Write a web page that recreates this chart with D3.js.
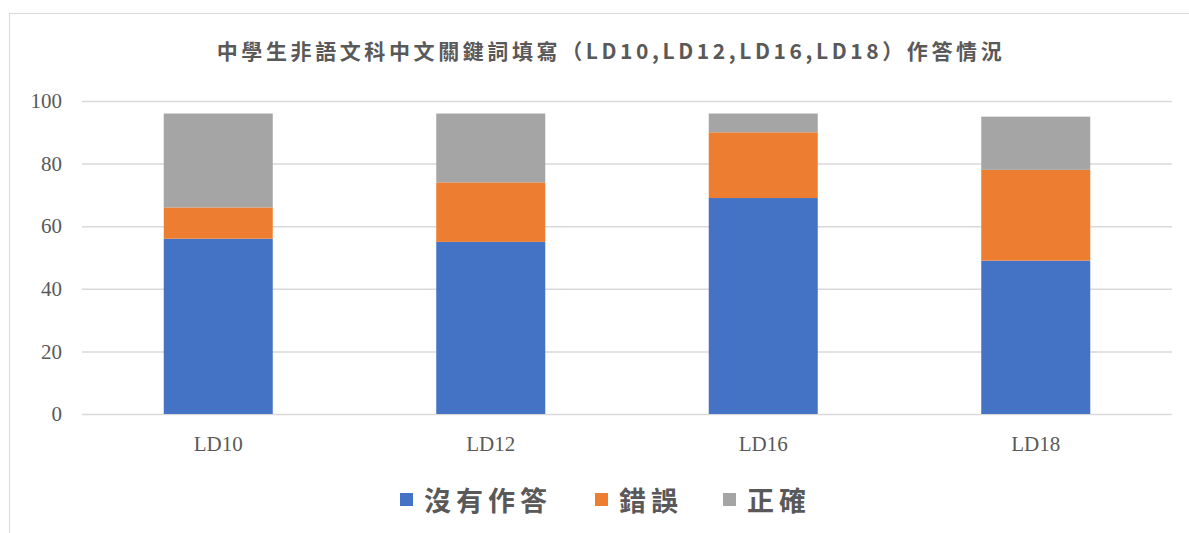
<!DOCTYPE html>
<html><head><meta charset="utf-8">
<script src="https://cdn.jsdelivr.net/npm/d3@7"></script>
<style>body{margin:0;background:#fff}svg{display:block}</style>
</head><body>
<svg id="chart" width="1189" height="533"></svg>
<script>
const categories = ["LD10","LD12","LD16","LD18"];
const seriesNames = ["沒有作答","錯誤","正確"];
const noAnswer = [56,55,69,49];
const wrong = [10,19,21,29];
const correct = [30,22,6,17];
const yTicks = [0,20,40,60,80,100];
const colors = ["#4472C4","#ED7D31","#A5A5A5"];
const title = "中學生非語文科中文關鍵詞填寫（LD10,LD12,LD16,LD18）作答情況";

(function(){
const svg = d3.select("#chart");
const pL = 82, pR = 1172, pT = 101, pB = 414;
const rows = categories.map((c,i)=>({cat:c, "沒有作答":noAnswer[i], "錯誤":wrong[i], "正確":correct[i]}));
const stack = d3.stack().keys(seriesNames)(rows);

const x = d3.scaleBand().domain(categories).range([pL,pR]).paddingInner(0.6).paddingOuter(0.3);
const y = d3.scaleLinear().domain([0,100]).range([pB,pT]);

svg.append("rect").attr("x",9.5).attr("y",13.5).attr("width",1185).attr("height",530)
  .attr("fill","#fff").attr("stroke","#d9d9d9").attr("stroke-width",1);

svg.append("text").attr("x",611).attr("y",59).attr("text-anchor","middle")
  .attr("font-family","'Noto Sans CJK TC','Noto Sans CJK SC',sans-serif").attr("font-weight","bold")
  .attr("font-size",21).attr("letter-spacing",3.6).attr("fill","#595959").text(title);

const yAxis = d3.axisLeft(y).tickValues(yTicks).tickSize(-(pR-pL)).tickFormat(d3.format("d"));
const gy = svg.append("g").attr("transform",`translate(${pL},0)`).call(yAxis);
gy.select(".domain").remove();
gy.selectAll(".tick line").attr("stroke","#d9d9d9").attr("stroke-width",1.5);
gy.selectAll(".tick text").attr("x",-20).attr("fill","#595959")
  .attr("font-family","'Liberation Serif',serif").attr("font-size",21);

svg.append("g").selectAll("g").data(stack).join("g").attr("fill",(d,i)=>colors[i])
  .selectAll("rect").data(d=>d).join("rect")
  .attr("x",d=>x(d.data.cat)).attr("width",x.bandwidth())
  .attr("y",d=>y(d[1])).attr("height",d=>y(d[0])-y(d[1]));

const xAxis = d3.axisBottom(x).tickSize(0);
const gx = svg.append("g").attr("transform",`translate(0,${pB})`).call(xAxis);
gx.select(".domain").remove();
gx.selectAll(".tick text").attr("dy",0).attr("y",37).attr("fill","#595959")
  .attr("font-family","'Liberation Serif',serif").attr("font-size",21);

const legendX = [400,595,723];
const lg = svg.append("g");
seriesNames.forEach((n,i)=>{
  lg.append("rect").attr("x",legendX[i]).attr("y",493).attr("width",13).attr("height",13).attr("fill",colors[i]);
  lg.append("text").attr("x",legendX[i]+24).attr("y",511).attr("fill","#595959")
    .attr("font-family","'Noto Sans CJK TC','Noto Sans CJK SC',sans-serif").attr("font-weight","bold")
    .attr("font-size",27).attr("letter-spacing",5).text(n);
});
})();
</script>
</body></html>
